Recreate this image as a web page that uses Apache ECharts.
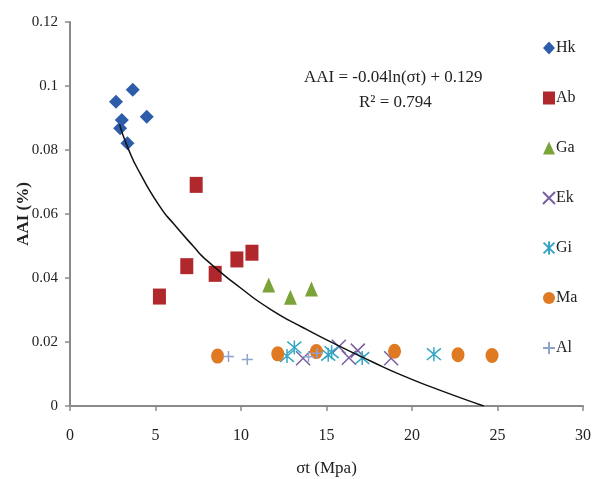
<!DOCTYPE html>
<html>
<head>
<meta charset="utf-8">
<script src="https://cdn.jsdelivr.net/npm/echarts@6/dist/echarts.min.js"></script>
<style>
  html, body { margin: 0; padding: 0; background: #fff; }
  #main { width: 594px; height: 479px; }
</style>
</head>
<body>
<div id="main"></div>
<script>
// data: [σt, AAI]
var hk = [[2.69, 0.0951], [3.67, 0.0988], [4.49, 0.0904], [3.03, 0.0894], [2.93, 0.0868], [3.36, 0.0821]];
var ab = [[5.23, 0.0342], [6.83, 0.0437], [7.38, 0.0691], [8.49, 0.0413], [9.76, 0.0458], [10.64, 0.0479]];
var ga = [[11.62, 0.0378], [12.89, 0.0340], [14.12, 0.0366]];
var ek = [[13.63, 0.0149], [15.72, 0.0185], [16.31, 0.0151], [16.83, 0.0173], [18.78, 0.0149]];
var gi = [[12.69, 0.0156], [13.12, 0.0183], [15.10, 0.0160], [15.30, 0.0168], [17.09, 0.0150], [21.28, 0.0162]];
var ma = [[8.63, 0.0156], [12.15, 0.0163], [14.41, 0.0170], [18.98, 0.0171], [22.69, 0.0160], [24.68, 0.0158]];
var al = [[9.27, 0.0155], [10.37, 0.0145], [13.95, 0.0154], [14.45, 0.0165]];
// trendline as traced on the picture
var trend = [[2.9, 0.0880], [3.4, 0.0805], [4.1, 0.0727], [5.3, 0.0620], [6.05, 0.0570], [7.2, 0.0500],
  [8.0, 0.0455], [10.0, 0.0368], [11.7, 0.0303], [13.7, 0.0243], [15.6, 0.0191], [17.6, 0.0140],
  [19.5, 0.0094], [21.5, 0.0052], [24.2, 0.0000]];
var seriesNames = ['Hk', 'Ab', 'Ga', 'Ek', 'Gi', 'Ma', 'Al'];
var equation = 'AAI = -0.04ln(σt) + 0.129';
var rSquared = 'R² = 0.794';

var font = 'Liberation Serif';
var myChart = echarts.init(document.getElementById('main'));

function pts(name, data, symbol, size, color, stroked) {
    var s = {
        name: name,
        type: 'scatter',
        data: data,
        symbol: symbol,
        symbolSize: size,
        z: 3,
        itemStyle: { color: color, opacity: 1 }
    };
    if (stroked) {
        s.itemStyle = { color: 'transparent', borderColor: color, borderWidth: 1.5, opacity: 1 };
    }
    return s;
}

var xMark = 'path://M0,0L10,10M10,0L0,10';
var starMark = 'path://M0,0L10,10M10,0L0,10M5,-1L5,11';
var plusMark = 'path://M5,0L5,10M0,5L10,5';

var option = {
    animation: false,
    textStyle: { fontFamily: font },
    grid: { left: 70, right: 11, top: 22, bottom: 73, outerBoundsMode: 'none' },
    legend: {
        orient: 'vertical',
        left: 537,
        top: 35,
        itemGap: 34,
        itemWidth: 12,
        itemHeight: 13,
        data: seriesNames,
        textStyle: { fontFamily: font, fontSize: 16, color: '#222', padding: [0, 0, 0, -4] }
    },
    xAxis: {
        type: 'value',
        min: 0, max: 30, interval: 5,
        name: 'σt (Mpa)',
        nameLocation: 'middle',
        nameGap: 54,
        nameTextStyle: { fontFamily: font, fontSize: 17, color: '#222' },
        axisLine: { lineStyle: { color: '#8a8a8a', width: 2 } },
        axisTick: { show: true, length: 5, lineStyle: { color: '#8a8a8a', width: 1.5 } },
        axisLabel: { fontFamily: font, fontSize: 16, color: '#222', margin: 22 },
        splitLine: { show: false }
    },
    yAxis: {
        type: 'value',
        min: 0, max: 0.12, interval: 0.02,
        name: 'AAI (%)',
        nameLocation: 'middle',
        nameGap: 38,
        nameMoveOverlap: false,
        nameTextStyle: { fontFamily: font, fontSize: 17, fontWeight: 'bold', color: '#222' },
        axisLine: { show: true, lineStyle: { color: '#8a8a8a', width: 2 } },
        axisTick: { show: true, length: 5, lineStyle: { color: '#8a8a8a', width: 1.5 } },
        axisLabel: { fontFamily: font, fontSize: 15, color: '#222', margin: 12 },
        splitLine: { show: false }
    },
    graphic: [
        { type: 'text', left: 304, top: 69, style: { text: equation, fontFamily: font, fontSize: 17, fill: '#222' } },
        { type: 'text', left: 359, top: 94, style: { text: rSquared, fontFamily: font, fontSize: 17, fill: '#222' } }
    ],
    series: [
        {
            name: 'trend',
            type: 'line',
            data: trend,
            smooth: 0.6,
            showSymbol: false,
            z: 4,
            lineStyle: { color: '#111', width: 1.5 },
            itemStyle: { color: '#111' }
        },
        pts('Hk', hk, 'diamond', 14, '#2D5DAA'),
        pts('Ab', ab, 'rect', [13, 16], '#B0282C'),
        pts('Ga', ga, 'triangle', [13, 15], '#7AA43A'),
        pts('Ek', ek, xMark, 14, '#7A5FA0', true),
        pts('Gi', gi, starMark, 14, '#35A6C4', true),
        pts('Ma', ma, 'circle', [13, 15], '#E07A22'),
        pts('Al', al, plusMark, 11, '#8FA3CC', true)
    ]
};

myChart.setOption(option);
</script>
</body>
</html>
